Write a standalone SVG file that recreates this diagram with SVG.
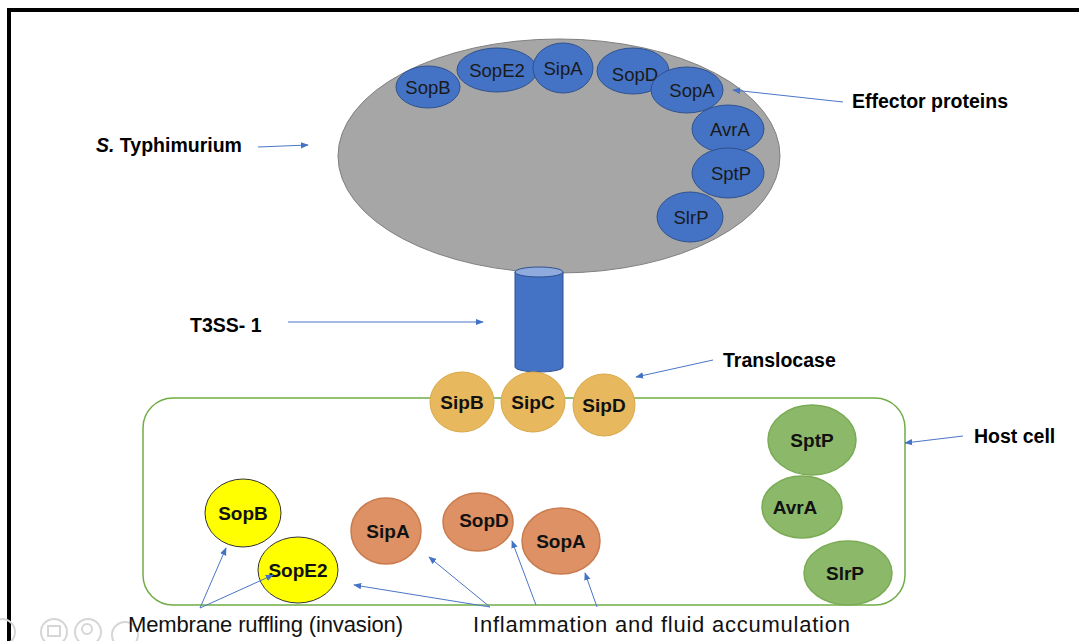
<svg xmlns="http://www.w3.org/2000/svg" width="1079" height="641" viewBox="0 0 1079 641">
<style>
  .lbl{font-family:"Liberation Sans",Arial,sans-serif;font-weight:bold;fill:#000;font-size:19.5px;}
  .ntb{font-family:"Liberation Sans",Arial,sans-serif;font-size:18.5px;fill:#1a1a1a;text-anchor:middle;}
  .ntk{font-family:"Liberation Sans",Arial,sans-serif;font-size:19px;font-weight:bold;fill:#111;text-anchor:middle;}
  .bot{font-family:"Liberation Sans",Arial,sans-serif;font-size:22px;fill:#111;}
  .blue{fill:#4472c4;stroke:#2f528f;stroke-width:1;}
  .tl{fill:#e7b85e;stroke:#d9a94a;stroke-width:1;}
  .grn{fill:#8cb86a;stroke:#7aab54;stroke-width:1.5;}
  .org{fill:#dd9165;stroke:#c97b4d;stroke-width:1.5;}
  .yel{fill:#ffff00;stroke:#333;stroke-width:1;}
  .conn{stroke:#4a76c6;stroke-width:1;fill:none;marker-end:url(#ah);}
  .ic{fill:none;stroke:#d6d6d6;stroke-width:2;}
</style>
<defs>
  <marker id="ah" viewBox="0 0 10 10" refX="9" refY="5" markerWidth="8" markerHeight="8" markerUnits="userSpaceOnUse" orient="auto">
    <path d="M0,1 L10,5 L0,9 Z" fill="#4472c4"/>
  </marker>
</defs>
<rect width="1079" height="641" fill="#fff"/>
<!-- frame -->
<path d="M9,641 V10 H1079" fill="none" stroke="#000" stroke-width="4"/>

<!-- faint viewer icons -->
<g id="viewer-icons">
  <circle class="ic" cx="2" cy="632" r="13"/>
  <circle class="ic" cx="54" cy="632" r="13"/>
  <rect x="48" y="626" width="12" height="10" fill="none" stroke="#d6d6d6" stroke-width="2"/>
  <circle class="ic" cx="88" cy="632" r="13"/>
  <circle class="ic" cx="87" cy="629" r="5"/>
  <circle class="ic" cx="125" cy="635" r="13"/>
</g>

<!-- Bacterium -->
<g id="bacterium">
  <ellipse cx="559" cy="156" rx="221" ry="117" fill="#a6a6a6" stroke="#808080" stroke-width="1"/>
</g>
<g id="eff-SopB"><ellipse class="blue" cx="428" cy="87" rx="32" ry="21"/><text class="ntb" x="428" y="94">SopB</text></g>
<g id="eff-SopE2"><ellipse class="blue" cx="497" cy="70" rx="40" ry="22"/><text class="ntb" x="497" y="77">SopE2</text></g>
<g id="eff-SipA"><ellipse class="blue" cx="563" cy="68" rx="30" ry="25"/><text class="ntb" x="563" y="75">SipA</text></g>
<g id="eff-SopD"><ellipse class="blue" cx="633" cy="71" rx="36" ry="23"/><text class="ntb" x="635" y="81">SopD</text></g>
<g id="eff-SopA"><ellipse class="blue" cx="687" cy="90" rx="36" ry="23"/><text class="ntb" x="692" y="97">SopA</text></g>
<g id="eff-AvrA"><ellipse class="blue" cx="728" cy="129" rx="36" ry="24"/><text class="ntb" x="730" y="136">AvrA</text></g>
<g id="eff-SptP"><ellipse class="blue" cx="728" cy="173" rx="36" ry="25"/><text class="ntb" x="731" y="180">SptP</text></g>
<g id="eff-SlrP"><ellipse class="blue" cx="690" cy="217" rx="33" ry="25"/><text class="ntb" x="691" y="224">SlrP</text></g>

<!-- T3SS-1 cylinder -->
<g id="t3ss">
  <path d="M515,272 V367 A24,5 0 0 0 563,367 V272 Z" fill="#4472c4" stroke="#2f528f" stroke-width="1"/>
  <ellipse cx="539" cy="272" rx="24" ry="5" fill="#8faadc" stroke="#2f528f" stroke-width="1"/>
</g>

<!-- Host cell -->
<g id="host-cell">
  <rect x="143" y="398" width="762" height="207" rx="30" ry="30" fill="none" stroke="#70ad47" stroke-width="1.5"/>
</g>

<!-- Translocase -->
<g id="tl-SipB"><ellipse class="tl" cx="462" cy="402" rx="32" ry="30"/><text class="ntk" x="462" y="409">SipB</text></g>
<g id="tl-SipC"><ellipse class="tl" cx="533" cy="402" rx="32" ry="30"/><text class="ntk" x="533" y="409">SipC</text></g>
<g id="tl-SipD"><ellipse class="tl" cx="604" cy="405" rx="31" ry="31"/><text class="ntk" x="604" y="412">SipD</text></g>

<!-- Host green -->
<g id="h-SptP"><ellipse class="grn" cx="812" cy="440" rx="44" ry="35"/><text class="ntk" x="812" y="447">SptP</text></g>
<g id="h-AvrA"><ellipse class="grn" cx="802" cy="507" rx="40" ry="31"/><text class="ntk" x="795" y="514">AvrA</text></g>
<g id="h-SlrP"><ellipse class="grn" cx="848" cy="573" rx="44" ry="32"/><text class="ntk" x="845" y="580">SlrP</text></g>

<!-- Host yellow -->
<g id="h-SopB"><ellipse class="yel" cx="243" cy="513" rx="38" ry="34"/><text class="ntk" x="243" y="520" style="font-weight:900">SopB</text></g>
<g id="h-SopE2"><ellipse class="yel" cx="298" cy="570" rx="40" ry="33"/><text class="ntk" x="298" y="577">SopE2</text></g>

<!-- Host orange -->
<g id="h-SipA"><ellipse class="org" cx="386" cy="531" rx="35" ry="33"/><text class="ntk" x="388" y="538">SipA</text></g>
<g id="h-SopD"><ellipse class="org" cx="478" cy="522" rx="35" ry="29"/><text class="ntk" x="484" y="527">SopD</text></g>
<g id="h-SopA"><ellipse class="org" cx="561" cy="541" rx="39" ry="33"/><text class="ntk" x="561" y="548">SopA</text></g>

<!-- Labels -->
<g id="labels">
  <text class="lbl" x="96" y="152" font-size="20"><tspan font-style="italic">S.</tspan> Typhimurium</text>
  <text class="lbl" x="852" y="108" font-size="20">Effector proteins</text>
  <text class="lbl" x="190" y="332">T3SS- 1</text>
  <text class="lbl" x="723" y="367">Translocase</text>
  <text class="lbl" x="974" y="443">Host cell</text>
  <text class="bot" x="128" y="632" textLength="275" lengthAdjust="spacing">Membrane ruffling (invasion)</text>
  <text class="bot" x="473" y="632" textLength="377" lengthAdjust="spacing">Inflammation and fluid accumulation</text>
</g>

<!-- Connectors -->
<g id="connectors">
  <line class="conn" x1="258" y1="147" x2="308" y2="145"/>
  <line class="conn" x1="843" y1="102" x2="733" y2="90"/>
  <line class="conn" x1="288" y1="322" x2="483" y2="322"/>
  <line class="conn" x1="713" y1="360" x2="636" y2="377"/>
  <line class="conn" x1="963" y1="436" x2="905" y2="443"/>
  <line class="conn" x1="200" y1="608" x2="226" y2="548"/>
  <line class="conn" x1="200" y1="608" x2="273" y2="575"/>
  <line class="conn" x1="490" y1="607" x2="354" y2="585"/>
  <line class="conn" x1="490" y1="607" x2="429" y2="557"/>
  <line class="conn" x1="536" y1="605" x2="512" y2="541"/>
  <line class="conn" x1="597" y1="607" x2="585" y2="573"/>
</g>
</svg>
